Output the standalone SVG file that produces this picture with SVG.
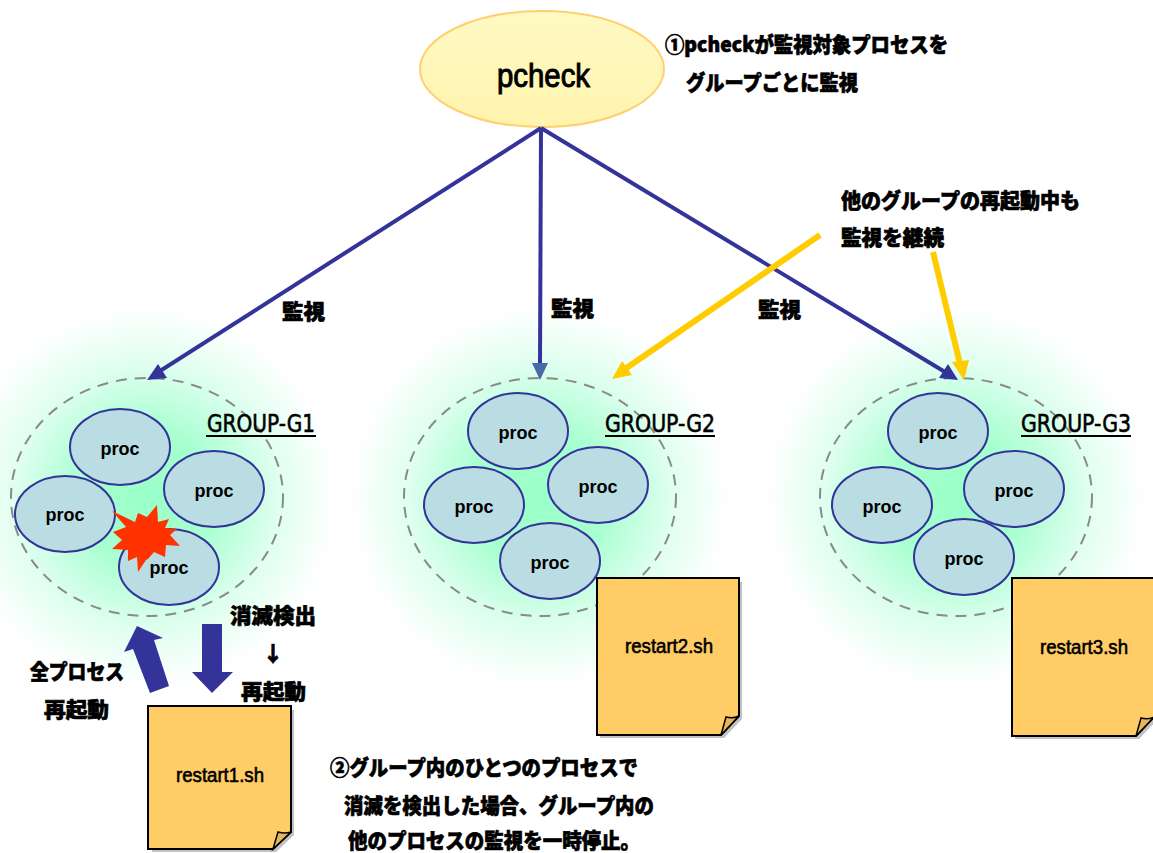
<svg xmlns="http://www.w3.org/2000/svg" width="1153" height="853" viewBox="0 0 1153 853">
<style>
.jp{font-family:"Noto Sans CJK JP","Liberation Sans",sans-serif;font-weight:900;font-size:21px;fill:#000;stroke:#000;stroke-width:.7}
.proc{fill:#b9dde2;stroke:#333399;stroke-width:2}
.ptext{font-family:"Liberation Sans",sans-serif;font-weight:bold;font-size:18px;text-anchor:middle;fill:#000}
.grp{font-family:"DejaVu Sans",sans-serif;font-size:24px;fill:#000;stroke:#000;stroke-width:.6}
.boundary{fill:none;stroke:#8a8a86;stroke-width:2;stroke-dasharray:11 8}
.note{fill:#ffcc66;stroke:#000;stroke-width:2}
.shadow{fill:#c2c2c2}
.fold{fill:#e5b65c;stroke:#000;stroke-width:1.5}
.ntext{font-family:"Liberation Sans",sans-serif;font-size:20px;fill:#000;stroke:#000;stroke-width:.6}
.mon{stroke:#333399;stroke-width:4;fill:none}
.ylw{stroke:#ffcc00;stroke-width:6;fill:none}
</style>
<defs>
<radialGradient id="glow"><stop offset="0" stop-color="#99ffc8"/><stop offset=".35" stop-color="#a8ffd0"/><stop offset=".7" stop-color="#e0fff0"/><stop offset="1" stop-color="#fff"/></radialGradient>
<linearGradient id="pc" x1="0" y1="0" x2="0" y2="1"><stop offset="0" stop-color="#fffac4"/><stop offset="1" stop-color="#fff4ae"/></linearGradient>
</defs>
<rect width="1153" height="853" fill="#fff"/>
<g id="glows">
<ellipse cx="147" cy="497" rx="190" ry="190" fill="url(#glow)"/>
<ellipse cx="540" cy="497" rx="190" ry="190" fill="url(#glow)"/>
<ellipse cx="956" cy="497" rx="190" ry="190" fill="url(#glow)"/>
</g>
<g id="pcheck">
<ellipse cx="542" cy="69" rx="122" ry="58" fill="url(#pc)" stroke="#ffd070" stroke-width="2"/>
<text x="497" y="87" font-family="Liberation Sans,sans-serif" font-size="33" stroke="#000" stroke-width="1" textLength="93" lengthAdjust="spacingAndGlyphs">pcheck</text>
</g>
<g id="group-g1">
<ellipse class="boundary" cx="147" cy="497" rx="136" ry="119"/>
<text class="grp" x="207" y="432" textLength="108" lengthAdjust="spacingAndGlyphs">GROUP-G1</text>
<path d="M206 436H316" stroke="#000" stroke-width="2"/>
<ellipse class="proc" cx="120" cy="447" rx="50" ry="38"/><text class="ptext" x="120" y="455">proc</text>
<ellipse class="proc" cx="214" cy="489" rx="50" ry="38"/><text class="ptext" x="214" y="497">proc</text>
<ellipse class="proc" cx="65" cy="514" rx="50" ry="38"/><text class="ptext" x="65" y="521">proc</text>
<ellipse class="proc" cx="169" cy="567" rx="50" ry="38"/>
<polygon points="112,511 135,522 138,513 147,517 157,505 158,522 169,519 165,528 177,529 170,535 180,546 166,545 165,557 154,552 148,559 146,560 138,572 137,557 128,561 128,550 112,549 122,540 113,532 126,527" fill="#ff3300"/>
<text class="ptext" x="169" y="574">proc</text>
</g>
<g id="group-g2">
<ellipse class="boundary" cx="540" cy="497" rx="136" ry="119"/>
<text class="grp" x="605" y="432" textLength="110" lengthAdjust="spacingAndGlyphs">GROUP-G2</text>
<path d="M605 436H715" stroke="#000" stroke-width="2"/>
<ellipse class="proc" cx="518" cy="431" rx="50" ry="38"/><text class="ptext" x="518" y="439">proc</text>
<ellipse class="proc" cx="598" cy="485" rx="50" ry="38"/><text class="ptext" x="598" y="493">proc</text>
<ellipse class="proc" cx="474" cy="505" rx="50" ry="38"/><text class="ptext" x="474" y="513">proc</text>
<ellipse class="proc" cx="550" cy="561" rx="50" ry="38"/><text class="ptext" x="550" y="569">proc</text>
</g>
<g id="group-g3">
<ellipse class="boundary" cx="956" cy="497" rx="136" ry="119"/>
<text class="grp" x="1021" y="432" textLength="110" lengthAdjust="spacingAndGlyphs">GROUP-G3</text>
<path d="M1021 436H1131" stroke="#000" stroke-width="2"/>
<ellipse class="proc" cx="938" cy="431" rx="50" ry="38"/><text class="ptext" x="938" y="439">proc</text>
<ellipse class="proc" cx="1014" cy="489" rx="50" ry="38"/><text class="ptext" x="1014" y="497">proc</text>
<ellipse class="proc" cx="882" cy="505" rx="50" ry="38"/><text class="ptext" x="882" y="513">proc</text>
<ellipse class="proc" cx="964" cy="557" rx="50" ry="38"/><text class="ptext" x="964" y="565">proc</text>
</g>
<g id="restart1">
<path class="shadow" d="M152 710H294V835L276 852H152Z"/>
<path class="note" d="M148 706H291V832L273 849H148Z"/>
<path class="fold" d="M273 849L278 832Q285 834 291 832Z"/>
<text class="ntext" x="176" y="782" textLength="88" lengthAdjust="spacingAndGlyphs">restart1.sh</text>
</g>
<g id="restart2">
<path class="shadow" d="M600 582H742V719L724 738H600Z"/>
<path class="note" d="M597 578H739V716L721 735H597Z"/>
<path class="fold" d="M721 735L726 717Q733 719 739 716Z"/>
<text class="ntext" x="625" y="653" textLength="88" lengthAdjust="spacingAndGlyphs">restart2.sh</text>
</g>
<g id="restart3">
<path class="shadow" d="M1015 582H1157V720L1139 739H1015Z"/>
<path class="note" d="M1012 578H1154V717L1136 736H1012Z"/>
<path class="fold" d="M1136 736L1141 718Q1148 720 1154 717Z"/>
<text class="ntext" x="1040" y="654" textLength="88" lengthAdjust="spacingAndGlyphs">restart3.sh</text>
</g>
<g id="connectors">
<path class="mon" d="M541 128L160 371"/>
<polygon points="147,380 158,364 167,378" fill="#333399"/>
<path class="mon" d="M541 128L540 365"/>
<polygon points="540,380 532,363 548,363" fill="#4a69a8"/>
<path class="mon" d="M541 128L945 372"/>
<polygon points="958,380 939,378 948,364" fill="#333399"/>
<path class="ylw" d="M820 235L625 369"/>
<polygon points="612,379 622,361 632,375" fill="#ffcc00"/>
<path class="ylw" d="M933 252L960 364"/>
<polygon points="964,380 952,362 969,360" fill="#ffcc00"/>
<polygon points="137,626 163,638 154,640 169,686 150,693 133,649 124,652" fill="#333399"/>
<polygon points="202,624 222,624 222,672 233,672 212,693 192,672 202,672" fill="#333399"/>
</g>
<g id="labels">
<text class="jp" x="282" y="319" textLength="43" lengthAdjust="spacingAndGlyphs">監視</text>
<text class="jp" x="551" y="316" textLength="43" lengthAdjust="spacingAndGlyphs">監視</text>
<text class="jp" x="758" y="317" textLength="43" lengthAdjust="spacingAndGlyphs">監視</text>
<text class="jp" x="665" y="52" textLength="283" lengthAdjust="spacingAndGlyphs">①pcheckが監視対象プロセスを</text>
<text class="jp" x="686" y="90" textLength="172" lengthAdjust="spacingAndGlyphs">グループごとに監視</text>
<text class="jp" x="841" y="208" textLength="239" lengthAdjust="spacingAndGlyphs">他のグループの再起動中も</text>
<text class="jp" x="841" y="245" textLength="103" lengthAdjust="spacingAndGlyphs">監視を継続</text>
<text class="jp" x="230" y="623" textLength="86" lengthAdjust="spacingAndGlyphs">消滅検出</text>
<text class="jp" x="273" y="661" text-anchor="middle">↓</text>
<text class="jp" x="241" y="699" textLength="65" lengthAdjust="spacingAndGlyphs">再起動</text>
<text class="jp" x="30" y="679" textLength="94" lengthAdjust="spacingAndGlyphs">全プロセス</text>
<text class="jp" x="44" y="717" textLength="65" lengthAdjust="spacingAndGlyphs">再起動</text>
<text class="jp" x="330" y="775" textLength="308" lengthAdjust="spacingAndGlyphs">②グループ内のひとつのプロセスで</text>
<text class="jp" x="344" y="813" textLength="310" lengthAdjust="spacingAndGlyphs">消滅を検出した場合、グループ内の</text>
<text class="jp" x="348" y="848" textLength="292" lengthAdjust="spacingAndGlyphs">他のプロセスの監視を一時停止。</text>
</g>
</svg>
